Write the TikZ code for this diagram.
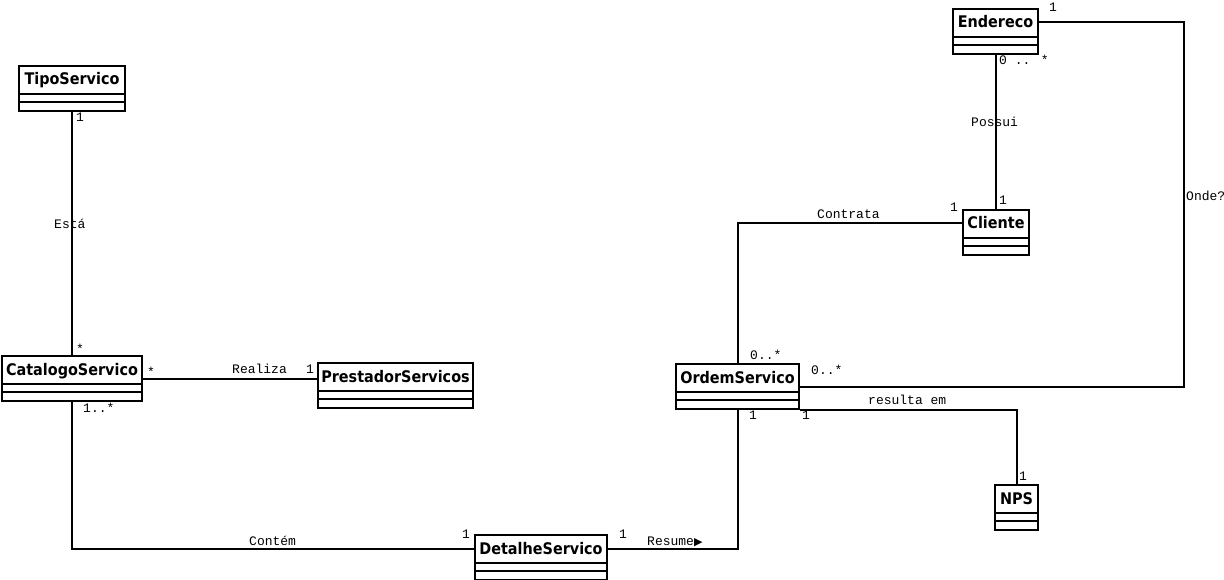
\documentclass[tikz,border=0pt]{standalone}
\usepackage{fontspec}
\usetikzlibrary{calc}
\newfontfamily\clsfont{DejaVu Sans}[FakeStretch=0.9]
\newfontfamily\lblfont{Liberation Mono}
\newfontfamily\symfont{DejaVu Sans}
\tikzset{
  conn/.style={line width=2pt},
  boxsty/.style={draw, line width=2pt, inner sep=0pt, anchor=north west, fill=white},
  titlesty/.style={inner sep=0pt, anchor=base, font=\clsfont\bfseries\fontsize{16}{18}\selectfont},
  lbl/.style={inner sep=0pt, anchor=base west, font=\lblfont\fontsize{13}{15}\selectfont},
}
% name, x, y, width, text
\newcommand\umlcls[5]{%
  \node[boxsty, minimum width=#4pt, minimum height=45pt] (#1) at (#2,#3) {};
  \node[titlesty] (#1T) at ($(#1.north)+(0,20)$) {#5};
  \coordinate (#1M) at ($(#1.north)+(0,14.5)$);
  \draw[line width=2pt] ($(#1.north west)+(0,29)$) -- ($(#1.north east)+(0,29)$);
  \draw[line width=2pt] ($(#1.north west)+(0,37)$) -- ($(#1.north east)+(0,37)$);
}
\begin{document}
\begin{tikzpicture}[x=1pt,y=-1pt]
\useasboundingbox (0,0) rectangle (1224,580);
% classes
\umlcls{tipo}{18}{65}{106}{TipoServico}
\umlcls{cat}{1}{355}{140}{CatalogoServico}
\umlcls{prest}{317}{362}{155}{PrestadorServicos}
\umlcls{det}{474}{534}{132}{DetalheServico}
\umlcls{ord}{675}{363}{123}{OrdemServico}
\umlcls{end}{952}{8}{85}{Endereco}
\umlcls{cli}{962}{209}{66}{Cliente}
\umlcls{nps}{994}{484}{43}{NPS}
\coordinate (onde) at (1184,200);
% connectors
\draw[conn] (tipo.south) -- (cat.north);
\draw[conn] (cat.east) -- (cat.east -| prest.west);
\draw[conn] (cat.south) |- (detM -| det.west);
\draw[conn] (detM -| det.east) -| (ord.south);
\draw[conn] (ord.north) |- (cliM -| cli.west);
\draw[conn] (end.south) -- (end.south |- cli.north);
\draw[conn] (endM -| end.east) -| (onde) |- (ord.east);
\draw[conn] (ord.south east) -| (nps.north);
% labels
\node[lbl] (l1) at (54,229) {Está};
\node[lbl] (l2) at (76,122) {1};
\node[lbl] (l3) at (76,353) {*};
\node[lbl] (l4) at (147,376) {*};
\node[lbl] (l5) at (83,412) {1..*};
\node[lbl] (l6) at (232,373) {Realiza};
\node[lbl] (l7) at (306,373) {1};
\node[lbl] (l8) at (249,545) {Contém};
\node[lbl] (l9) at (462,538) {1};
\node[lbl] (l10) at (619,538) {1};
\node[lbl] (l11) at (647,545) {Resume{\symfont\fontsize{11}{12}\selectfont ▶}};
\node[lbl] (l12) at (750,359) {0..*};
\node[lbl] (l13) at (811,374) {0..*};
\node[lbl] (l14) at (749,419) {1};
\node[lbl] (l15) at (802,419) {1};
\node[lbl] (l16) at (868,404) {resulta em};
\node[lbl] (l17) at (1019,480) {1};
\node[lbl] (l18) at (1049,12) {1};
\node[lbl] (l19) at (999,65) {0 .. *};
\node[lbl] (l20) at (971,127) {Possui};
\node[lbl] (l21) at (999,205) {1};
\node[lbl] (l22) at (950,212) {1};
\node[lbl] (l23) at (817,219) {Contrata};
\node[lbl] (l24) at (1186,201) {Onde?};
\end{tikzpicture}
\end{document}
